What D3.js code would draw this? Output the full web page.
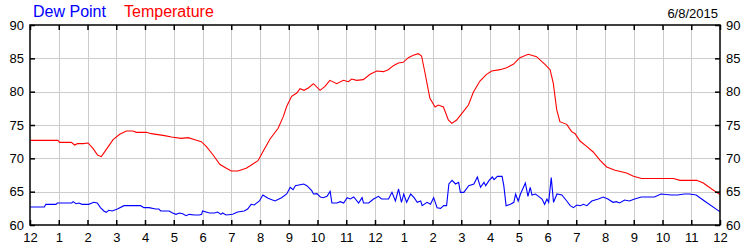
<!DOCTYPE html>
<html>
<head>
<meta charset="utf-8">
<script src="https://cdn.jsdelivr.net/npm/d3@7"></script>
<style>
  html, body { margin: 0; padding: 0; background: #fff; }
  svg { display: block; font-family: "Liberation Sans", Arial, sans-serif; }
</style>
</head>
<body>
<svg id="chart" width="750" height="250"></svg>
<script>
// ---- data ----
const hourLabels = ["12","1","2","3","4","5","6","7","8","9","10","11","12","1","2","3","4","5","6","7","8","9","10","11","12"];
const yTickValues = [60, 65, 70, 75, 80, 85, 90];
const dateLabel = "6/8/2015";
const seriesNames = ["Dew Point", "Temperature"];

const tempHours = [0,0.97,1.03,1.44,1.55,1.65,1.85,2.02,2.19,2.35,2.48,2.65,2.89,3.12,3.35,3.58,3.70,4.05,4.22,4.68,4.92,5.26,5.50,5.73,5.96,6.13,6.37,6.60,6.83,7.0,7.23,7.52,7.70,7.93,8.10,8.35,8.63,8.81,8.93,9.1,9.28,9.39,9.53,9.68,9.86,10.09,10.26,10.43,10.67,10.9,11.07,11.19,11.36,11.59,11.83,12.06,12.29,12.46,12.64,12.81,12.98,13.16,13.33,13.51,13.62,13.74,13.91,14.09,14.2,14.38,14.55,14.67,14.84,15.07,15.25,15.42,15.65,15.88,16.06,16.35,16.58,16.81,17.04,17.33,17.62,17.91,18.09,18.2,18.32,18.43,18.67,18.84,18.96,19.13,19.36,19.59,19.83,20.06,20.35,20.75,20.99,21.27,22.38,22.61,23.19,23.42,23.71,24];
const tempValues = [72.7,72.7,72.4,72.4,72.0,72.2,72.2,72.3,71.5,70.5,70.25,71.3,72.8,73.6,74.1,74.1,73.9,73.9,73.7,73.4,73.2,73.0,73.1,72.8,72.5,71.8,70.5,69.1,68.5,68.1,68.1,68.5,69.0,69.65,71.0,72.9,74.5,76.25,77.8,79.3,79.8,80.45,80.2,80.55,81.2,80.2,80.8,81.7,81.2,81.7,81.5,81.9,81.7,81.8,82.6,83.1,83.0,83.3,83.9,84.3,84.4,85.1,85.45,85.7,85.35,82.8,79.0,77.7,78.0,77.7,75.75,75.25,75.75,77.0,78.0,79.9,81.6,82.6,83.1,83.3,83.6,84.1,85.1,85.6,85.25,84.1,83.3,81.3,77.3,75.5,75.1,74.0,73.7,72.6,71.8,70.95,69.7,68.7,68.2,67.8,67.3,66.97,66.97,66.7,66.7,66.3,65.4,64.55];

const dewHours = [0,0.5,0.55,0.9,0.95,1.45,1.5,1.6,1.7,1.81,2.04,2.22,2.34,2.45,2.57,2.65,2.74,2.86,3.04,3.27,3.45,3.85,3.96,4.14,4.37,4.48,4.55,4.84,4.96,5.08,5.2,5.31,5.43,5.54,5.72,5.89,5.97,6.0,6.24,6.41,6.53,6.64,6.7,6.82,7.05,7.22,7.45,7.57,7.69,7.8,7.98,8.1,8.28,8.52,8.75,8.93,9.05,9.15,9.23,9.52,9.63,9.8,9.86,9.98,10.1,10.2,10.33,10.44,10.5,10.68,10.79,10.91,11.03,11.14,11.26,11.43,11.55,11.6,11.78,11.95,12.12,12.23,12.47,12.59,12.71,12.82,12.92,13.0,13.1,13.24,13.36,13.47,13.59,13.64,13.81,13.93,14.04,14.16,14.28,14.39,14.49,14.57,14.68,14.8,14.91,14.97,15.09,15.26,15.44,15.56,15.67,15.79,15.85,15.97,16.08,16.14,16.26,16.42,16.48,16.56,16.71,16.83,16.89,16.98,17.06,17.23,17.32,17.4,17.46,17.58,17.69,17.81,17.9,17.98,18.04,18.13,18.21,18.33,18.5,18.67,18.79,18.9,19.02,19.14,19.25,19.37,19.54,19.77,19.94,20.1,20.28,20.39,20.51,20.68,20.85,21.03,21.26,21.72,21.95,22.3,22.53,22.76,22.94,23.17,23.46,23.93,24];
const dewValues = [62.7,62.7,63.1,63.1,63.3,63.3,63.5,63.2,63.3,63.1,63.1,63.4,63.3,62.6,62.1,61.9,62.2,62.1,62.4,62.9,62.9,62.9,62.6,62.6,62.4,62.4,62.1,62.1,61.8,61.6,61.8,61.7,61.4,61.6,61.5,61.5,61.6,62.1,61.8,61.8,61.95,61.6,61.8,61.5,61.6,61.95,62.1,62.4,63.1,63.0,63.6,64.5,64.0,63.6,64.1,64.65,65.65,65.3,65.9,66.15,65.9,65.15,64.65,64.7,64.2,64.1,64.3,65.05,63.3,63.3,63.5,63.3,64.1,63.9,64.2,63.3,64.1,63.3,63.3,63.9,64.3,63.9,63.9,64.9,63.6,65.4,63.4,64.65,63.4,64.65,64.1,63.4,63.6,62.9,63.4,63.1,64.1,62.6,62.5,62.9,62.9,66.15,66.7,66.15,66.4,64.9,64.9,65.9,66.15,67.2,65.65,66.4,65.9,66.7,67.2,66.8,67.3,67.3,65.9,62.9,63.1,63.4,64.65,63.6,64.65,66.3,64.3,65.65,64.5,64.65,64.3,63.9,63.1,63.9,63.4,67.1,63.4,64.65,64.5,63.6,62.9,62.6,63.0,62.9,63.1,62.9,63.6,63.9,64.2,63.9,63.4,63.5,63.3,63.75,63.6,63.9,64.2,64.2,64.65,64.5,64.5,64.65,64.65,64.5,63.6,62.2,62.0];

// ---- chart ----
const svg = d3.select("#chart");
const plotL = 30, plotR = 720, plotT = 25, plotB = 225;

const x = d3.scaleLinear().domain([0, 24]).range([plotL, plotR]);
const y = d3.scaleLinear().domain([60, 90]).range([plotB, plotT]);
const hourTicks = d3.range(hourLabels.length);

// grid
const grid = svg.append("g").attr("stroke", "#cccccc").attr("stroke-width", 1).attr("shape-rendering", "crispEdges");
grid.selectAll("line.v").data(hourTicks.slice(1, -1)).join("line")
  .attr("x1", d => Math.round(x(d)) + 0.5).attr("x2", d => Math.round(x(d)) + 0.5)
  .attr("y1", plotT).attr("y2", plotB);
grid.selectAll("line.h").data(yTickValues.slice(1, -1)).join("line")
  .attr("y1", d => Math.round(y(d)) + 0.5).attr("y2", d => Math.round(y(d)) + 0.5)
  .attr("x1", plotL).attr("x2", plotR);

// lines
const line = d3.line().x(d => x(d[0])).y(d => y(d[1]));
const dewData = dewHours.map((h, i) => [h, dewValues[i]]);
const tempData = tempHours.map((h, i) => [h, tempValues[i]]);

svg.append("path").datum(dewData).attr("d", line)
  .attr("fill", "none").attr("stroke", "#0000ff").attr("stroke-width", 1.1);
svg.append("path").datum(tempData).attr("d", line)
  .attr("fill", "none").attr("stroke", "#ff0000").attr("stroke-width", 1.1);

// axes
function styleAxis(g, showText) {
  g.select(".domain").remove();
  g.selectAll(".tick line").attr("stroke", "#000").attr("stroke-width", 1.5);
  g.selectAll(".tick text").attr("fill", "#000").style("font-size", "13px")
    .style("font-family", "\"Liberation Sans\", Arial, sans-serif");
  if (!showText) g.selectAll(".tick text").remove();
}

svg.append("g").attr("transform", `translate(0,${plotB})`)
  .call(d3.axisBottom(x).tickValues(hourTicks).tickFormat(i => hourLabels[i]).tickSize(-5).tickPadding(8))
  .call(g => styleAxis(g, true));
svg.append("g").attr("transform", `translate(0,${plotT})`)
  .call(d3.axisTop(x).tickValues(hourTicks).tickSize(-5))
  .call(g => styleAxis(g, false));
svg.append("g").attr("transform", `translate(${plotL},0)`)
  .call(d3.axisLeft(y).tickValues(yTickValues).tickFormat(d3.format("d")).tickSize(-5).tickPadding(6))
  .call(g => styleAxis(g, true));
svg.append("g").attr("transform", `translate(${plotR},0)`)
  .call(d3.axisRight(y).tickValues(yTickValues).tickFormat(d3.format("d")).tickSize(-5).tickPadding(6))
  .call(g => styleAxis(g, true));

// frame
svg.append("rect").attr("x", plotL).attr("y", plotT).attr("width", plotR - plotL).attr("height", plotB - plotT)
  .attr("fill", "none").attr("stroke", "#000").attr("stroke-width", 1.5);

// legend
svg.append("text").attr("x", 33).attr("y", 17).attr("fill", "#0000ff")
  .style("font-size", "16px").text(seriesNames[0]);
svg.append("text").attr("x", 124).attr("y", 17).attr("fill", "#ff0000")
  .style("font-size", "16px").text(seriesNames[1]);
svg.append("text").attr("x", 718).attr("y", 18).attr("text-anchor", "end").attr("fill", "#000")
  .style("font-size", "13px").text(dateLabel);
</script>
</body>
</html>
